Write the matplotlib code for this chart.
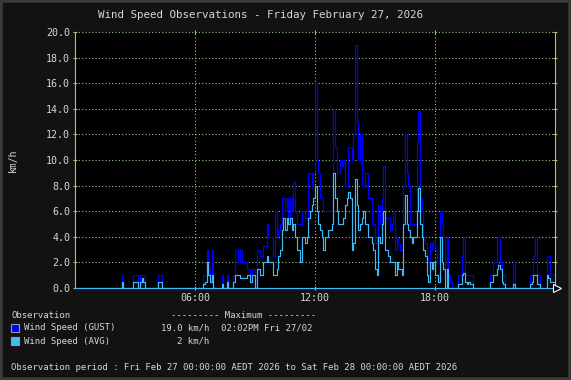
import numpy as np
import matplotlib
matplotlib.use('Agg')
import matplotlib.pyplot as plt
from matplotlib.patches import Rectangle

# 5-minute samples, one row per hour (00:00 .. 23:55)
gust = [
    [0, 0, 0, 0, 0, 0, 0, 0, 0, 0, 0, 0],
    [0, 0, 0, 0, 0, 0, 0, 0, 0, 0, 0, 0],
    [0, 0, 0, 0, 1, 0, 0, 0, 0, 0, 0, 1],
    [1, 1, 0, 1, 1, 1, 0, 0, 0, 0, 0, 0],
    [0, 0, 1, 1, 0, 0, 0, 0, 0, 0, 0, 0],
    [0, 0, 0, 0, 0, 0, 0, 0, 0, 0, 0, 0],
    [0, 0, 0, 0, 0, 1, 1, 3, 1.5, 1, 3, 0],
    [0, 0, 0, 0, 1, 0, 0, 1, 0, 0, 0, 1],
    [3, 3, 2, 3, 2, 2, 2, 1.5, 1.5, 1, 1.5, 1.5],
    [0, 3, 3, 2.5, 2.5, 3.3, 3.3, 5, 4, 4, 4, 2.5],
    [6, 4, 4.5, 5, 7, 7, 6, 7, 5.5, 7, 6, 8.3],
    [6, 5, 5, 5, 6, 6, 5.5, 5.5, 9, 9, 8, 9],
    [16, 10, 9, 7, 7, 6, 6, 6, 6, 6, 6, 14],
    [11, 9, 9, 10, 9.5, 10, 8, 8, 11, 11, 10, 12],
    [19, 13, 10, 12, 8, 8, 9, 9, 7, 7, 5, 5],
    [3.5, 4, 6.5, 5, 7, 9.5, 5.5, 5.5, 5.5, 4.5, 5, 6],
    [3, 4, 3.5, 3, 3, 8, 12, 9, 8, 5, 5, 5],
    [5, 11.5, 13.8, 7, 6, 4, 3.5, 2, 2, 3.5, 3, 3.7],
    [3, 2, 2, 6, 5, 4, 1, 4, 1, 0.5, 0, 0],
    [0, 0, 1, 1, 2.5, 4, 1, 1, 1, 1, 1, 0],
    [0, 0, 0, 0, 0, 0, 0, 0, 0, 1, 1, 2],
    [2, 4, 4, 2, 1, 1, 0, 0, 0, 0, 0, 2],
    [0, 0, 0, 0, 0, 0, 0, 0, 0, 1, 1, 2.5],
    [4, 1, 1, 0, 0, 0, 0, 2.5, 2.5, 1, 1, 1],
]
avg = [
    [0, 0, 0, 0, 0, 0, 0, 0, 0, 0, 0, 0],
    [0, 0, 0, 0, 0, 0, 0, 0, 0, 0, 0, 0],
    [0, 0, 0, 0, 0.5, 0, 0, 0, 0, 0, 0, 0.5],
    [0.5, 0.5, 0, 0.5, 0.8, 0.5, 0, 0, 0, 0, 0, 0],
    [0, 0, 0.5, 0.5, 0, 0, 0, 0, 0, 0, 0, 0],
    [0, 0, 0, 0, 0, 0, 0, 0, 0, 0, 0, 0],
    [0, 0, 0, 0, 0, 0.3, 0.5, 2, 1, 0.5, 1, 0],
    [0, 0, 0, 0, 0.3, 0, 0, 0.5, 0, 0, 0, 0.5],
    [1, 1, 1, 0.8, 0.8, 0.8, 0.8, 1, 1, 0.5, 1, 1],
    [0, 1.5, 1.5, 1, 1, 2, 2, 2.5, 2, 2, 2, 1],
    [1, 1.5, 2.5, 3, 4.5, 5.5, 4.5, 5.5, 5, 5.5, 4.5, 5],
    [4, 3, 3, 2, 4, 4, 3.5, 4, 5.5, 6, 6.5, 7],
    [8, 6, 5, 4.5, 4, 3, 4, 4, 4.5, 4.5, 5, 9],
    [7, 6, 5, 5, 5, 5.5, 6.5, 7, 7.5, 7, 3, 3.5],
    [8.5, 6.5, 4.5, 5, 5.5, 6, 5, 5, 4, 4, 3.5, 3],
    [1.5, 1, 4, 3.5, 5, 6, 3, 3, 2.5, 2, 2, 2],
    [1, 2, 1.5, 1.5, 1, 5, 7.3, 5, 4.5, 4, 3.5, 4],
    [4, 6, 7.8, 5, 4, 3, 2.5, 1, 0.5, 2, 1.5, 2],
    [1, 1, 0.5, 4, 2, 1.5, 0, 1.5, 0, 0, 0, 0],
    [0, 0, 0.3, 0.3, 1, 1.2, 0.5, 0.3, 0.5, 0.3, 0.3, 0],
    [0, 0, 0, 0, 0, 0, 0, 0, 0, 0.5, 0.5, 1],
    [1, 1.5, 1.8, 1.5, 0.5, 0.3, 0, 0, 0, 0, 0, 0.3],
    [0, 0, 0, 0, 0, 0, 0, 0, 0, 0.3, 0.5, 1],
    [1, 0.3, 0.3, 0, 0, 0, 0, 1, 0.8, 0.5, 0.5, 0.5],
]
y_ticks = [0, 2, 4, 6, 8, 10, 12, 14, 16, 18, 20]
x_ticks = [6, 12, 18]
x_labels = ['06:00', '12:00', '18:00']

title = 'Wind Speed Observations - Friday February 27, 2026'
legend_rows = [
    ('Wind Speed (GUST)', '19.0 km/h', '02:02PM Fri 27/02', '#0000ff'),
    ('Wind Speed (AVG)', '2 km/h', '', '#3cbcf8'),
]
period = 'Observation period : Fri Feb 27 00:00:00 AEDT 2026 to Sat Feb 28 00:00:00 AEDT 2026'

BG = '#121212'
TXT = '#d6d6d6'
GRID = '#98c888'
AXIS = '#b4c070'
GUST_C = '#0000ff'
AVG_C = '#3cbcf8'

plt.rcParams['font.family'] = ['DejaVu Sans Mono']

g = np.array(gust, dtype=float).ravel()
a = np.array(avg, dtype=float).ravel()
t = np.arange(len(g) + 1) * 5 / 60.0
g = np.append(g, g[-1])
a = np.append(a, a[-1])

fig = plt.figure(figsize=(5.71, 3.80), dpi=100)
fig.patch.set_facecolor(BG)
fig.patches.append(Rectangle((0, 0), 1, 1, transform=fig.transFigure,
                             fill=False, edgecolor='#3a3a3a', linewidth=4))

ax = fig.add_axes([75 / 571, 1 - 288 / 380, 480 / 571, 256 / 380])
ax.set_facecolor('black')

ax.step(t, g, where='post', color=GUST_C, lw=0.85, zorder=3)
ax.step(t, a, where='post', color=AVG_C, lw=0.85, zorder=4)

ax.set_xlim(0, 24)
ax.set_ylim(0, 20)
ax.set_yticks(y_ticks)
ax.set_yticklabels(['%.1f' % v for v in y_ticks])
ax.set_xticks(x_ticks)
ax.set_xticklabels(x_labels)
ax.grid(True, color=GRID, linestyle=(0, (1, 2)), linewidth=0.8, zorder=1)
ax.tick_params(colors=AXIS, labelcolor=TXT, labelsize=7.2, length=3,
               width=0.8, direction='inout', top=True, right=True, pad=2)

for side in ['left', 'right']:
    ax.spines[side].set_color(AXIS)
    ax.spines[side].set_linewidth(0.8)
ax.spines['top'].set_visible(False)
ax.spines['bottom'].set_color(AVG_C)
ax.spines['bottom'].set_linewidth(0.8)

# arrow at end of x axis
ax.plot([24.12], [0], marker='>', markersize=6, markerfacecolor='black',
        markeredgecolor='white', markeredgewidth=0.8, clip_on=False, zorder=5)

ax.set_ylabel('km/h', color=TXT, fontsize=7)
ax.yaxis.set_label_coords(-0.118, 0.5)

fig.text(261 / 571, 1 - 15 / 380, title, color=TXT, fontsize=7.8,
         ha='center', va='center')

fs = 6.5
fig.text(11 / 571, 1 - 315 / 380, 'Observation', color=TXT, fontsize=fs, va='center')
fig.text(171 / 571, 1 - 315 / 380, '--------- Maximum ---------', color=TXT,
         fontsize=fs, va='center')
for i, (name, val, when, col) in enumerate(legend_rows):
    yc = 328 + i * 13
    fig.patches.append(Rectangle((11 / 571, 1 - (yc + 4) / 380), 8 / 571, 8 / 380,
                                 transform=fig.transFigure, facecolor=col,
                                 edgecolor='#9a9a9a', linewidth=0.8))
    fig.text(24 / 571, 1 - yc / 380, name, color=TXT, fontsize=fs, va='center')
    fig.text(209 / 571, 1 - yc / 380, val, color=TXT, fontsize=fs,
             va='center', ha='right')
    if when:
        fig.text(221 / 571, 1 - yc / 380, when, color=TXT, fontsize=fs, va='center')
fig.text(11 / 571, 1 - 367 / 380, period, color=TXT, fontsize=fs, va='center')

fig.savefig('out.png', dpi=100, facecolor=BG)
